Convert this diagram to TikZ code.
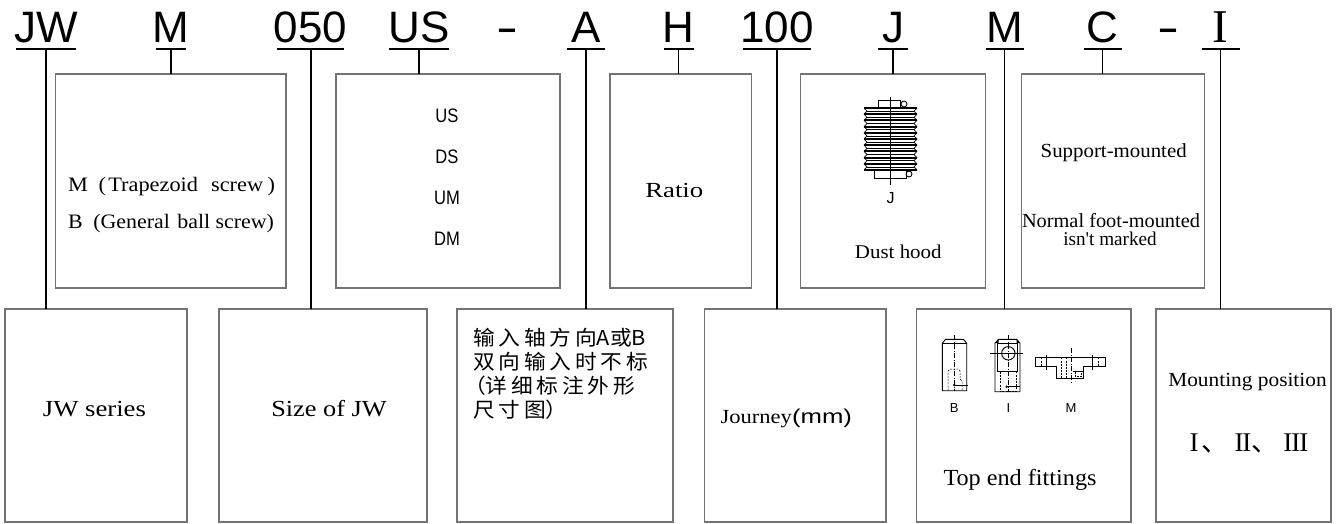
\documentclass[tikz,border=0pt]{standalone}
\usepackage{fontspec}
\usepackage{graphicx}
\setmainfont{Liberation Serif}
\newfontfamily\arialf{Liberation Sans}
\newfontfamily\cjkf{Noto Sans CJK SC}
\newcommand{\fsz}[1]{\fontsize{#1}{#1}\selectfont}
\newcommand{\fitw}[2]{\resizebox{#1pt}{\height}{#2}}
\newcommand{\hsx}[2]{\scalebox{#1}[1]{#2}}
\newcommand{\cgap}{\hspace{3.6pt}}
\definecolor{boxgray}{rgb}{0.45,0.45,0.45}
\begin{document}
\begin{tikzpicture}[x=1pt,y=-1pt,
  tbox/.style={draw=boxgray, line width=1.1pt, rectangle, inner sep=0pt, outer sep=0pt, anchor=north west},
  lbl/.style={inner sep=0pt, outer sep=0pt, anchor=base, text depth=6.3pt, font=\arialf\fsz{44}},
  ul/.style={line width=2pt},
  conn/.style={line width=1.3pt},
  txt/.style={inner sep=0pt, outer sep=0pt, anchor=base},
  txtw/.style={inner sep=0pt, outer sep=0pt, anchor=base west},
  fitl/.style={line width=0.9pt},
  thinl/.style={line width=0.5pt},
  cl/.style={line width=0.4pt, dash pattern=on 5pt off 1.5pt on 1pt off 1.5pt},
  dsh/.style={line width=0.5pt, dash pattern=on 2pt off 1.2pt}
]
\fill[white] (0,0) rectangle (1339,523);
\path[use as bounding box] (0,0) rectangle (1339,523);

% ---- top code labels
\node[lbl] (lJW)  at (46,42.7)    {JW};
\node[lbl] (lM)   at (171,42.7)   {M};
\node[lbl] (l050) at (310.5,42.7) {050};
\node[lbl] (lUS)  at (419,42.7)   {US};
\node[lbl] (dA)   at (507,42.7)   {\hsx{1.5}{-}};
\node[lbl] (lA)   at (586,42.7)   {A};
\node[lbl] (lH)   at (678.8,42.7) {H};
\node[lbl] (l100) at (777,42.7)   {100};
\node[lbl] (lJ)   at (893,42.7)   {J};
\node[lbl] (lM2)  at (1004.8,42.7) {M};
\node[lbl] (lC)   at (1102.8,42.7) {C};
\node[lbl] (dB)   at (1168,42.7)  {\hsx{1.5}{-}};
\node[lbl, font=\rmfamily\fsz{47}] (lI) at (1220.8,42.7) {I};

\foreach \n/\w in {lJW/30, lM/15, l050/33.5, lUS/30, lA/19, lH/15.3, l100/34, lJ/15, lM2/19, lC/19.2, lI/18.8}
  \draw[ul] ([xshift=-\w pt]\n.south) -- ([xshift=\w pt]\n.south);

% ---- top boxes
\node[tbox, minimum width=230.5pt, minimum height=214pt] (tM)  at (55.5,74) {};
\node[tbox, minimum width=224pt,   minimum height=214pt] (tUS) at (336,74) {};
\node[tbox, minimum width=141.4pt, minimum height=214pt] (tH)  at (610,74) {};
\node[tbox, minimum width=185pt,   minimum height=214pt] (tJ)  at (800.8,74) {};
\node[tbox, minimum width=182.8pt, minimum height=214pt] (tC)  at (1021.6,74) {};

% ---- bottom boxes
\node[tbox, minimum width=182pt,   minimum height=213pt] (bJW)  at (5,309) {};
\node[tbox, minimum width=208pt,   minimum height=213pt] (b050) at (219,309) {};
\node[tbox, minimum width=216pt,   minimum height=213pt] (bA)   at (457,309) {};
\node[tbox, minimum width=181.4pt, minimum height=213pt] (b100) at (704.6,309) {};
\node[tbox, minimum width=214.6pt, minimum height=213pt] (bM)   at (916.4,309) {};
\node[tbox, minimum width=175pt,   minimum height=213pt] (bI)   at (1156,309) {};

% ---- connectors
\draw[conn] (lJW.south) -- (lJW.south |- bJW.north);
\draw[conn] (lM.south) -- (lM.south |- tM.north);
\draw[conn, line width=2pt] (l050.south) -- (l050.south |- b050.north);
\draw[conn] (lUS.south) -- (lUS.south |- tUS.north);
\draw[conn] (lA.south) -- (lA.south |- bA.north);
\draw[conn] (lH.south) -- (lH.south |- tH.north);
\draw[conn] (l100.south) -- (l100.south |- b100.north);
\draw[conn] (lJ.south) -- (lJ.south |- tJ.north);
\draw[conn] (lM2.south) -- (lM2.south |- bM.north);
\draw[conn] (lC.south) -- (lC.south |- tC.north);
\draw[conn] (lI.south) -- (lI.south |- bI.north);

% ---- top box texts
\node[txtw, font=\fsz{20.5}] (tM1) at (68,191.7) {\fitw{207}{M\hspace{10pt}(\hspace{2pt}Trapezoid\hspace{12pt}screw\hspace{4pt})}};
\node[txtw, font=\fsz{20.5}] (tM2) at (68,228.3) {\fitw{206}{B\hspace{10pt}(General\hspace{7pt}ball screw)}};

\node[txt, font=\arialf\fsz{19.5}] (tUS1) at (447,122) {\hsx{0.85}{US}};
\node[txt, font=\arialf\fsz{19.5}] (tUS2) at (447,163) {\hsx{0.85}{DS}};
\node[txt, font=\arialf\fsz{19.5}] (tUS3) at (447,204.3) {\hsx{0.85}{UM}};
\node[txt, font=\arialf\fsz{19.5}] (tUS4) at (447,245.3) {\hsx{0.85}{DM}};

\node[txt, font=\fsz{21.5}] (tH1) at (674.3,197) {\fitw{58}{Ratio}};

% dust hood drawing
\foreach \i in {0,...,9} {
  \pgfmathsetmacro\ya{108+6.2*\i}
  \pgfmathsetmacro\yb{\ya+3.1}
  \pgfmathsetmacro\yc{\ya+6.2}
  \draw[line width=1.9pt] (864,\ya) -- (917,\ya);
  \draw[thinl] (867,\yb) -- (914,\yb);
  \draw[line width=0.7pt] (864,\ya) -- (867,\yb) -- (864,\yc);
  \draw[line width=0.7pt] (917,\ya) -- (914,\yb) -- (917,\yc);
}
\draw[line width=1.9pt] (864,170) -- (917,170);
\draw[fitl] (878,100.7) rectangle (900,108);
\draw[fitl] (904,104) circle (3pt);
\draw[fitl] (874,170) rectangle (906,178);
\draw[fitl] (909,174) circle (3pt);
\draw[line width=0.6pt] (890.7,96.7) -- (890.7,185);
\node[txt, font=\arialf\fsz{16}] (tJ1) at (890.7,203) {J};
\node[txt, font=\fsz{19.5}] (tJ2) at (898.3,258.3) {\fitw{86.7}{Dust hood}};

\node[txt, font=\fsz{20}] (tC1) at (1113.7,157) {\fitw{146}{Support-mounted}};
\node[txt, font=\fsz{20}] (tC2) at (1111,227.5) {\fitw{178}{Normal foot-mounted}};
\node[txt, font=\fsz{19.5}] (tC3) at (1110,245) {\fitw{93.3}{isn\textquotesingle t marked}};

% ---- bottom box texts
\node[txt, font=\fsz{23}] (bJW1) at (94.4,416.7) {\fitw{103}{JW series}};
\node[txt, font=\fsz{23}] (b0501) at (329,416.7) {\fitw{115.5}{Size of JW}};

\node[txtw, font=\cjkf\fsz{20.5}] (bA1) at (473,345.5) {\hsx{1.06}{输\cgap 入\cgap 轴\cgap 方\cgap 向A或B}};
\node[txtw, font=\cjkf\fsz{20.5}] (bA2) at (473,369.5) {\hsx{1.06}{双\cgap 向\cgap 输\cgap 入\cgap 时\cgap 不\cgap 标}};
\node[txtw, font=\cjkf\fsz{20.5}] (bA3) at (464,393.5) {\hsx{1.06}{（详\cgap 细\cgap 标\cgap 注\cgap 外\cgap 形}};
\node[txtw, font=\cjkf\fsz{20.5}] (bA4) at (473,417.5) {\hsx{1.06}{尺\cgap 寸\cgap 图）}};

\node[txtw, font=\fsz{20}] (b1001) at (720.6,423.3) {\fitw{71.4}{Journey}\fitw{60}{\arialf\fsz{20}(mm)}};

% top end fittings drawings
% B
\draw[fitl] (942.3,343.3) -- (945.5,339.3) -- (963.5,339.3) -- (966.7,343.3) -- (966.7,390.7) -- (942.3,390.7) -- cycle;
\draw[thinl] (942.3,343.3) -- (966.7,343.3);
\draw[cl] (954.3,335) -- (954.3,390.7);
\draw[dsh] (948,390.7) -- (948,371) -- (950,369) -- (958,369) -- (960,371) -- (960,379) -- (962,381) -- (962,390.7);
\fill (954.3,385) circle (1.4pt);
\draw[thinl] (954.3,385) -- (968.3,385);
% I
\draw[fitl] (995,343) -- (998.5,339.3) -- (1016.5,339.3) -- (1020,343) -- (1020,391.7) -- (995,391.7) -- cycle;
\fill (995,343) -- (998.5,339.3) -- (998.5,343) -- cycle;
\fill (1020,343) -- (1016.5,339.3) -- (1016.5,343) -- cycle;
\draw[thinl] (997.5,343) rectangle (1017.5,371.7);
\draw[fitl] (1008.3,353.3) circle (6.7pt);
\draw[thinl] (990,353.3) -- (1023.3,353.3);
\draw[cl] (1008.3,335) -- (1008.3,391.7);
\draw[dsh] (1000,371.7) rectangle (1016,391.7);
\fill (1006.7,386.7) circle (1.4pt);
\draw[thinl] (1006.7,386.7) -- (1020,386.7);
% M
\draw[fitl] (1035,357.3) -- (1105.7,357.3) -- (1105.7,366.7) -- (1083.3,366.7) -- (1083.3,378.3) -- (1056,378.3) -- (1056,366.7) -- (1035,366.7) -- cycle;
\foreach \xx in {1041,1061.7,1066,1098.3}
  \draw[dsh] (\xx,357.3) -- (\xx,366.7);
\draw[dsh] (1061.7,366.7) -- (1061.7,378.3);
\draw[dsh] (1066,366.7) -- (1066,378.3);
\draw[fitl] (1046.7,354.5) -- (1046.7,369.5);
\draw[fitl] (1092.7,354.5) -- (1092.7,369.5);
\draw[cl] (1070.7,348.3) -- (1070.7,383.3);
\draw[thinl] (1073,371.7) -- (1084,371.7);
\draw[dsh] (1075,371.7) rectangle (1081,376.5);

\node[txt, font=\arialf\fsz{13}] (bM1) at (954.3,412.7) {B};
\node[txt, font=\arialf\fsz{13}] (bM2) at (1008.3,412.7) {I};
\node[txt, font=\arialf\fsz{13}] (bM3) at (1071,412.7) {M};
\node[txt, font=\fsz{23}] (bM4) at (1020,485) {\fitw{153}{Top end fittings}};

\node[txt, font=\fsz{20}] (bI1) at (1247.5,386.7) {\fitw{158.4}{Mounting position}};
\node[txtw, font=\fsz{27}] (bI2) at (1189.5,451.7) {I\hspace{3pt}{\cjkf 、}\hspace{6pt}I\kern-1pt I{\cjkf 、}\hspace{5pt}I\kern-1pt I\kern-1pt I};
\end{tikzpicture}
\end{document}
